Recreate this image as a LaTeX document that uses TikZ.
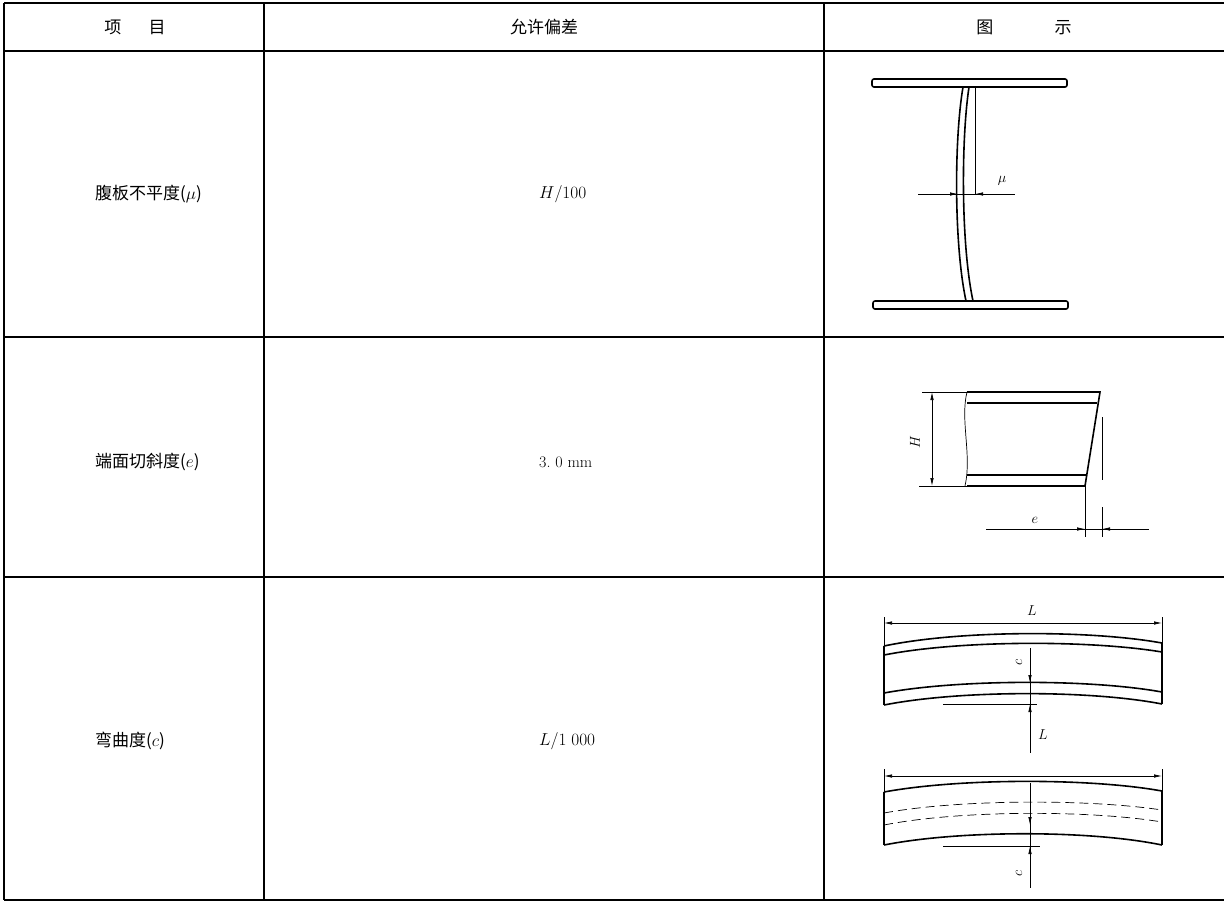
\documentclass[tikz,border=0pt]{standalone}
\usepackage{fontspec}
\newfontfamily\cjk{Noto Sans CJK SC}
\usetikzlibrary{arrows.meta,positioning}

\begin{document}
\begin{tikzpicture}[x=1pt,y=-1pt,
  tabline/.style={line width=1.3pt},
  part/.style={line width=1.6pt},
  fine/.style={line width=0.7pt},
  dimarrow/.style={line width=0.7pt,-{Latex[length=8pt,width=3.5pt]}},
  cell/.style={font=\fontsize{17}{20}\selectfont\cjk, inner sep=0pt},
  val/.style={font=\fontsize{16}{18}\selectfont, anchor=west, inner sep=0pt},
  dimlbl/.style={font=\fontsize{15}{17}\selectfont, inner sep=1pt}]
\useasboundingbox (0,0) rectangle (1228,911);
%----------------------------------
\draw[tabline] (4,3) -- (1224,3) (4,51) -- (1224,51)
  (4,337) -- (1224,337) (4,577) -- (1224,577) (4,900) -- (1224,900);
\draw[tabline] (4,3) -- (4,900) (264,3) -- (264,900) (824,3) -- (824,900);
%----------------------------------
\node[cell] (hItem) at (135,27) {项\hspace{1.6em}目};
\node[cell] (hTol) at (544,27) {允许偏差};
\node[cell] (hFig) at (1024,27) {图\hspace{3.6em}示};
%----------------------------------
\node[cell, anchor=west] (rWeb) at (95,194) {腹板不平度($\mu$)};
\node[val, right=444pt of rWeb.west] (vWeb) {$H/100$};
\node[cell, anchor=west] (rEnd) at (95,462) {端面切斜度($e$)};
\node[val, right=444pt of rEnd.west] (vEnd) {3.\ 0 mm};
\node[cell, anchor=west] (rBow) at (95,741) {弯曲度($c$)};
\node[val, right=444pt of rBow.west] (vBow) {$L/1\ 000$};
%---------------------------------- web flatness
\draw[part, rounded corners=2pt] (872,79) rectangle (1067,87);
\draw[part, rounded corners=2pt] (873,301) rectangle (1068,309);
\draw[part] (963,87) .. controls (954,140) and (954,245) .. (966,301);
\draw[part] (969,87) .. controls (961,140) and (961,245) .. (973,301);
\draw[fine] (975,87) -- (975,194);
\draw[fine] (918,194) -- (1015,194);
\draw[dimarrow] (938,194) -- (958,194);
\draw[dimarrow] (995,194) -- (975,194);
\node[dimlbl] (mu) at (1002,181) {$\mu$};
%---------------------------------- end slope
\draw[part] (967,392) -- (1100,392) -- (1085,486) -- (967,486);
\draw[part] (967,403) -- (1097,403) (967,475) -- (1087,475);
\draw[fine] (967,392) .. controls (960,420) and (972,455) .. (965,486);
\draw[fine] (922,392) -- (967,392) (919,486) -- (967,486);
\draw[dimarrow] (932,439) -- (932,392);
\draw[dimarrow] (932,439) -- (932,486);
\node[dimlbl, rotate=90] (hgt) at (915,442) {$H$};
\draw[fine] (1102,417) -- (1102,480) (1085,486) -- (1085,537) (1102,507) -- (1102,537);
\draw[fine] (986,529) -- (1149,529);
\draw[dimarrow] (1063,529) -- (1085,529);
\draw[dimarrow] (1124,529) -- (1102,529);
\node[dimlbl] (ee) at (1035,520) {$e$};
%---------------------------------- camber, upper
\draw[fine] (884,617) -- (884,646) (1162,617) -- (1162,643);
\draw[dimarrow] (1023,623) -- (884,623);
\draw[dimarrow] (1023,623) -- (1162,623);
\node[dimlbl] (len1) at (1032,611) {$L$};
\draw[part] (884,646) .. controls (960,630) and (1090,630) .. (1162,643);
\draw[part] (884,655) .. controls (960,640) and (1090,640) .. (1162,652);
\draw[part] (884,693) .. controls (960,679) and (1090,679) .. (1162,692);
\draw[part] (884,705) .. controls (960,690) and (1090,690) .. (1162,704);
\draw[part] (884,646) -- (884,705) (1162,643) -- (1162,704);
\draw[fine] (943,704) -- (1037,704);
\draw[fine] (1030,648) -- (1030,753);
\draw[dimarrow] (1030,662) -- (1030,683);
\draw[dimarrow] (1030,726) -- (1030,704);
\node[dimlbl, rotate=90] (cc1) at (1019,662) {$c$};
\node[dimlbl] (len2) at (1043,735) {$L$};
%---------------------------------- camber, lower
\draw[fine] (884,769) -- (884,792) (1162,769) -- (1162,791);
\draw[dimarrow] (1023,776) -- (884,776);
\draw[dimarrow] (1023,776) -- (1162,776);
\draw[part] (884,792) .. controls (960,778) and (1090,778) .. (1162,791);
\draw[part] (884,845) .. controls (960,830) and (1090,830) .. (1162,845);
\draw[fine, dash pattern=on 9pt off 5pt] (884,813) .. controls (960,799) and (1090,799) .. (1162,810);
\draw[fine, dash pattern=on 9pt off 5pt] (884,825) .. controls (960,810) and (1090,810) .. (1162,822);
\draw[part] (884,792) -- (884,845) (1162,791) -- (1162,845);
\draw[fine] (943,846) -- (1040,846);
\draw[fine] (1030,783) -- (1030,888);
\draw[dimarrow] (1030,803) -- (1030,825);
\draw[dimarrow] (1030,868) -- (1030,846);
\node[dimlbl, rotate=90] (cc2) at (1019,873) {$c$};
\end{tikzpicture}
\end{document}
